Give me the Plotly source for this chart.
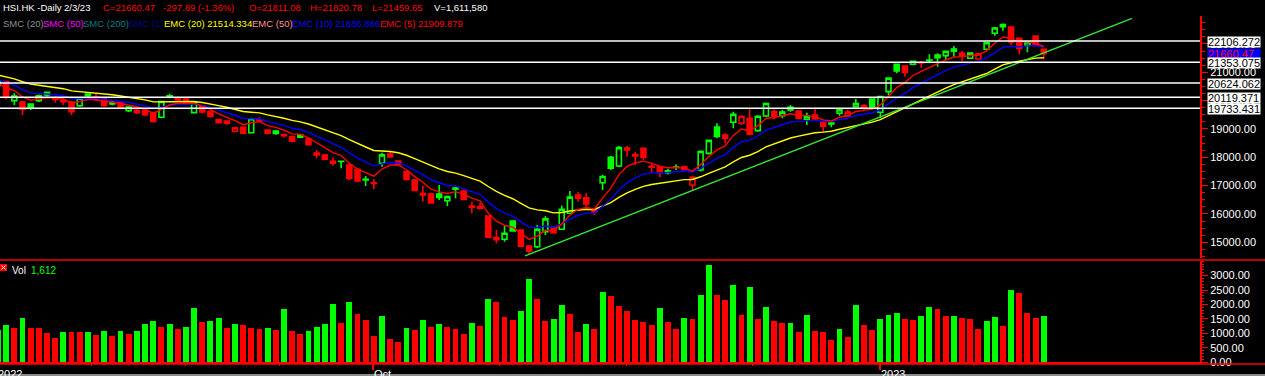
import plotly.graph_objects as go

# ---------------- DATA ----------------
trading_days = {
    "2022-07": [28, 29],
    "2022-08": [1, 2, 3, 4, 5, 8, 9, 10, 11, 12, 15, 16, 17, 18, 19, 22, 23, 24, 25, 26, 29, 30, 31],
    "2022-09": [1, 2, 5, 6, 7, 8, 9, 13, 14, 15, 16, 19, 20, 21, 22, 23, 26, 27, 28, 29, 30],
    "2022-10": [3, 5, 6, 7, 10, 11, 12, 13, 14, 17, 18, 19, 20, 21, 24, 25, 26, 27, 28, 31],
    "2022-11": [1, 2, 3, 4, 7, 8, 9, 10, 11, 14, 15, 16, 17, 18, 21, 22, 23, 24, 25, 28, 29, 30],
    "2022-12": [1, 2, 5, 6, 7, 8, 9, 12, 13, 14, 15, 16, 19, 20, 21, 22, 23, 28, 29, 30],
    "2023-01": [3, 4, 5, 6, 9, 10, 11, 12, 13, 16, 17, 18, 19, 20, 26, 27, 30, 31],
    "2023-02": [1, 2, 3],
}
dates = [f"{m}-{d:02d}" for m, days in trading_days.items() for d in days]

opens = [20540, 20670, 20000, 19953, 19882, 19999, 20295, 20104, 19960, 19953,
         19822, 20230, 20130, 20058, 19880, 19953, 19646, 19576, 19670, 19576,
         19413, 20130, 20080, 20058, 19576, 19822, 19611, 19329, 19283, 18918,
         19060, 18869, 19283, 18964, 18845, 18800, 18728, 18706, 18646, 18082,
         18082, 17789, 17850, 17729, 17577, 17200, 17100, 17789, 18117, 17870,
         17492, 17199, 16670, 16705, 16705, 16468, 16871, 16811, 16236, 16200,
         15928, 15090, 15106, 15752, 15434, 14869, 14845, 15374, 15515, 15459,
         16024, 16670, 16575, 16172, 17104, 18000, 17693, 18330, 18100, 18315,
         17680, 17669, 17457, 17650, 17669, 17022, 17552, 18140, 19070, 18788,
         19236, 19201, 19377, 18940, 19458, 19611, 19470, 19765, 19634, 19341,
         19494, 19222, 19180, 19553, 19458, 19787, 19830, 20059, 19588, 20317,
         21283, 21223, 21283, 21340, 21420, 21612, 21588, 21824, 21671, 21494,
         21471, 21812, 22378, 22611, 22600, 22200, 21950, 22282, 21811]
highs = [20760, 20700, 20259, 19990, 19900, 20220, 20320, 20150, 20090, 19990,
         20100, 20260, 20235, 20080, 19990, 19990, 19800, 19720, 19700, 19600,
         20000, 20240, 20110, 20090, 19960, 19850, 19650, 19360, 19310, 19080,
         19090, 19400, 19413, 18990, 18960, 18830, 18750, 18820, 18700, 18258,
         18120, 18000, 17880, 17760, 17600, 17340, 17224, 18163, 18200, 17900,
         17530, 17230, 17000, 16750, 17023, 16650, 16950, 16850, 16434, 16400,
         15950, 15434, 15575, 15780, 15450, 14900, 15610, 15928, 15560, 16300,
         16811, 16786, 16729, 16200, 17380, 18050, 18400, 18400, 18198, 18350,
         17786, 17700, 17600, 17751, 17700, 17340, 18250, 18620, 19200, 18847,
         19611, 19480, 19695, 19480, 19930, 19695, 19670, 19847, 19660, 19575,
         19765, 19250, 19293, 19720, 19670, 20059, 19870, 20080, 20170, 20820,
         21300, 21250, 21420, 21400, 21636, 21671, 21770, 21930, 21754, 21700,
         21680, 22060, 22600, 22720, 22620, 22230, 22100, 22300, 21821]
lows = [20480, 20050, 19847, 19494, 19670, 19950, 20150, 19930, 19847, 19494,
        19780, 20100, 19990, 19780, 19840, 19700, 19600, 19530, 19450, 19230,
        19380, 20080, 19990, 19850, 19550, 19550, 19400, 19200, 19150, 18880,
        18820, 18850, 19250, 18810, 18800, 18700, 18530, 18680, 18420, 17964,
        17900, 17700, 17610, 17200, 17120, 16990, 16871, 17670, 17990, 17700,
        17180, 16800, 16440, 16360, 16493, 16281, 16553, 16480, 16024, 16150,
        15140, 14965, 15021, 15380, 14830, 14597, 14800, 15258, 15300, 15430,
        16000, 16434, 16257, 15963, 16846, 17550, 17650, 18022, 17729, 17905,
        17435, 17294, 17400, 17552, 17540, 16821, 17500, 18100, 18671, 18494,
        19024, 19141, 18780, 18900, 19420, 19341, 19377, 19611, 19340, 19141,
        19317, 18904, 19060, 19470, 19430, 19760, 19650, 19750, 19377, 20200,
        20965, 20847, 21250, 21163, 21318, 21200, 21435, 21553, 21400, 21470,
        21450, 21790, 22293, 22470, 21965, 21636, 21707, 21900, 21460]
closes = [20670, 20156, 20165, 19689, 19767, 20174, 20201, 20045, 20003, 19610,
          20082, 20175, 20040, 19830, 19922, 19763, 19773, 19657, 19503, 19268,
          19968, 20170, 20023, 19900, 19930, 19597, 19452, 19225, 19202, 19044,
          18854, 19362, 19326, 18848, 18930, 18762, 18566, 18781, 18444, 18147,
          17933, 17855, 17860, 17250, 17165, 17223, 17079, 18087, 18012, 17740,
          17216, 16832, 16720, 16389, 16587, 16612, 16914, 16511, 16280, 16265,
          15180, 15165, 15318, 15399, 14863, 14687, 15455, 15827, 15339, 16161,
          16596, 16557, 16358, 16081, 17325, 17619, 18343, 18256, 18045, 17993,
          17655, 17460, 17523, 17660, 17573, 17297, 18204, 18597, 18736, 18675,
          19518, 19441, 18815, 19450, 19901, 19463, 19596, 19673, 19368, 19450,
          19353, 19094, 19211, 19679, 19593, 19898, 19741, 19781, 20145, 20793,
          21052, 20991, 21388, 21331, 21436, 21514, 21738, 21746, 21578, 21678,
          21651, 22044, 22566, 22689, 22069, 21842, 22072, 21958, 21660.47]
volumes = [1107, 1280, 1188, 1522, 1188, 1188, 1003, 830, 1038, 1038,
           1038, 1045, 934, 1072, 899, 1072, 968, 1072, 1314, 1418,
           1222, 1314, 1141, 1222, 1879, 1384, 1418, 1522, 1188, 1314,
           1280, 1188, 1141, 1176, 1107, 1833, 1072, 968, 1072, 1222,
           1314, 2006, 1349, 2075, 1660, 1453, 899, 1591, 796, 700,
           1176, 1107, 1453, 1211, 1314, 1211, 1141, 968, 1349, 1245,
           2179, 2075, 1557, 1453, 1764, 2871, 2179, 1418, 1487, 1972,
           1660, 1038, 1314, 1141, 2421, 2283, 1937, 1764, 1453, 1384,
           1280, 1868, 1384, 1141, 1522, 1515, 2318, 3355, 2318, 2145,
           2663, 1626, 2594, 1487, 1902, 1418, 1349, 1360, 1038, 1626,
           1072, 1038, 761, 1141, 865, 1972, 1280, 1107, 1487, 1626,
           1695, 1487, 1480, 1591, 1902, 1833, 1591, 1600, 1522, 1487,
           1141, 1418, 1557, 1245, 2490, 2387, 1695, 1522, 1612]

ema_periods = [20, 10, 5]
ema_seeds = [20905, 20730, 20600]          # indicator levels at the first bar
levels = [22106.272, 21353.075, 20624.062, 20119.371, 19733.431]
last_price = 21660.47
trend_x = [64.5, 138.8]
trend_y = [14520, 22900]
price_ticks = [15000, 16000, 17000, 18000, 19000, 20000, 21000, 22000]
vol_ticks = [0, 500, 1000, 1500, 2000, 2500, 3000]
x_labels = ["2022", "Oct", "2023"]
x_label_dates = ["2022-07-28", "2022-10-03", "2023-01-03"]

header1 = [("HSI.HK -Daily", "#ffffff"), ("2/3/23", "#ffffff"), ("C=21660.47", "#ff0000"),
           ("-297.89 (-1.36%)", "#ff0000"), ("O=21811.08", "#ff0000"), ("H=21820.78", "#ff0000"),
           ("L=21459.65", "#ff0000"), ("V=1,611,580", "#ffffff")]
header2 = [("SMC (20)", "#909090"), ("SMC (50)", "#ff00ff"), ("SMC (200)", "#008080"),
           ("SMC (1)", "#000090"), ("EMC (20) 21514.334", "#ffff00"), ("EMC (50)", "#ff9090"),
           ("EMC (10) 21886.886", "#0000ff"), ("EMC (5) 21909.879", "#ff0000")]

# ---------------- LAYOUT HELPERS ----------------
W, H = 1265, 376
PLOT_W = 1200
def px(x):
    return x / PLOT_W
def py(y):
    return (H - y) / H

GREEN, RED = "#00ff00", "#ff0000"
FONT = "Liberation Sans, Arial, sans-serif"
xs = list(range(len(dates)))

# ---------------- TRACES ----------------
fig = go.Figure()

up = [i == 0 or closes[i] > closes[i - 1] for i in xs]
for flag, col in [(True, GREEN), (False, RED)]:
    idx = [i for i in xs if up[i] == flag]
    fig.add_trace(go.Candlestick(
        x=idx, open=[opens[i] for i in idx], high=[highs[i] for i in idx],
        low=[lows[i] for i in idx], close=[closes[i] for i in idx],
        increasing=dict(line=dict(color=col, width=1.6), fillcolor="#000000"),
        decreasing=dict(line=dict(color=col, width=1.6), fillcolor=col),
        whiskerwidth=0, hoverinfo="skip", xaxis="x", yaxis="y"))

ema_colors = {20: "#ffff00", 10: "#0000ff", 5: "#ff0000"}
for n, seed in zip(ema_periods, ema_seeds):
    a = 2.0 / (n + 1)
    vals = [seed]
    for c in closes[1:]:
        vals.append(a * c + (1 - a) * vals[-1])
    fig.add_trace(go.Scatter(x=xs, y=vals, mode="lines",
                             line=dict(color=ema_colors[n], width=1.4),
                             hoverinfo="skip", xaxis="x", yaxis="y"))

fig.add_trace(go.Scatter(x=trend_x, y=trend_y, mode="lines",
                         line=dict(color="#33e633", width=1.4),
                         hoverinfo="skip", xaxis="x", yaxis="y"))

vol_colors = [GREEN if (i == 0 or volumes[i] > volumes[i - 1]) else RED for i in xs]
fig.add_trace(go.Bar(x=xs, y=volumes, marker=dict(color=vol_colors, line=dict(width=0)),
                     width=0.72, hoverinfo="skip", xaxis="x2", yaxis="y2"))

# ---------------- AXES ----------------
x0 = 2 / 8.17
x1 = (PLOT_W + 2) / 8.17
major_x = [dates.index(d) - 0.05 for d in x_label_dates[1:]]
minor_x = [11.47, 22.93, 34.43, 61.44, 76.87, 92.37, 119.46]

price_dom = [py(258), py(16)]
vol_dom = [py(362.3), py(261)]

fig.update_layout(
    width=W, height=H, margin=dict(l=0, r=65, t=0, b=0),
    paper_bgcolor="#000000", plot_bgcolor="#000000", showlegend=False,
    boxgap=0.14, bargap=0,
    font=dict(family=FONT, color="#ffffff", size=11),
    xaxis=dict(domain=[0, 1], range=[x0, x1], anchor="y", showticklabels=False,
               showgrid=False, zeroline=False, showline=False, ticks="",
               rangeslider=dict(visible=False), fixedrange=True),
    xaxis2=dict(domain=[0, 1], matches="x", range=[x0, x1], anchor="y2",
                showticklabels=False, showgrid=False, zeroline=False,
                showline=True, linecolor=RED, linewidth=2,
                ticks="outside", tickmode="array", tickvals=major_x,
                ticklen=6, tickwidth=2, tickcolor=RED,
                minor=dict(tickmode="array", tickvals=minor_x, ticks="outside",
                           ticklen=2, tickwidth=1, tickcolor=RED)),
    yaxis=dict(domain=price_dom, range=[14446, 22987], side="right", anchor="x",
               showgrid=False, zeroline=False, showline=True, linecolor=RED, linewidth=2,
               ticks="outside", tickmode="array", tickvals=price_ticks,
               ticktext=[f"{v:.2f}" for v in price_ticks], ticklen=6, tickcolor=RED,
               tickwidth=1, tickfont=dict(size=11, color="#ffffff"),
               minor=dict(dtick=250, ticks="outside", ticklen=3, tickcolor=RED),
               automargin=False, fixedrange=True),
    yaxis2=dict(domain=vol_dom, range=[0, 3505], side="right", anchor="x2",
                showgrid=False, zeroline=False, showline=True, linecolor=RED, linewidth=2,
                ticks="outside", tickmode="array", tickvals=vol_ticks,
                ticktext=[f"{v:.2f}" for v in vol_ticks], ticklen=6, tickcolor=RED,
                tickwidth=1, tickfont=dict(size=11, color="#ffffff"),
                minor=dict(dtick=100, ticks="outside", ticklen=2, tickcolor=RED),
                automargin=False, fixedrange=True),
)

# ---------------- SHAPES ----------------
shapes = []
for lv in levels:
    shapes.append(dict(type="line", xref="x domain", yref="y", x0=0, x1=1, y0=lv, y1=lv,
                       line=dict(color="#ffffff", width=1.5), layer="above"))
for yy, col, w in [(260, RED, 1.5), (364, RED, 1.5), (375, "#8a8a8a", 2)]:
    shapes.append(dict(type="line", xref="paper", yref="paper", x0=0, x1=px(W),
                       y0=py(yy), y1=py(yy), line=dict(color=col, width=w)))
# close-box icon of the volume pane
shapes.append(dict(type="rect", xref="paper", yref="paper", x0=px(0), x1=px(7),
                   y0=py(271), y1=py(264), fillcolor=RED, line=dict(width=0)))
shapes.append(dict(type="line", xref="paper", yref="paper", x0=px(1.5), x1=px(5.5),
                   y0=py(265.5), y1=py(269.5), line=dict(color="#ffffff", width=1)))
shapes.append(dict(type="line", xref="paper", yref="paper", x0=px(1.5), x1=px(5.5),
                   y0=py(269.5), y1=py(265.5), line=dict(color="#ffffff", width=1)))
fig.update_layout(shapes=shapes)

# ---------------- ANNOTATIONS ----------------
ann = []
h1x = [2, 63, 102, 162, 248, 309, 371, 433]
h2x = [2, 42, 82, 127, 163, 251, 291, 379]
for (t, c), x in zip(header1, h1x):
    ann.append(dict(text=t, x=px(x), y=py(7.5), xref="paper", yref="paper",
                    xanchor="left", yanchor="middle", showarrow=False,
                    font=dict(size=9.5, color=c, family=FONT), borderpad=0))
for (t, c), x in zip(header2, h2x):
    ann.append(dict(text=t, x=px(x), y=py(23.5), xref="paper", yref="paper",
                    xanchor="left", yanchor="middle", showarrow=False,
                    font=dict(size=9.5, color=c, family=FONT), borderpad=0))

ann.append(dict(text="Vol", x=px(11), y=py(270), xref="paper", yref="paper",
                xanchor="left", yanchor="middle", showarrow=False,
                font=dict(size=10, color="#ffffff"), borderpad=0))
ann.append(dict(text=f"{volumes[-1]:,}", x=px(30), y=py(270), xref="paper", yref="paper",
                xanchor="left", yanchor="middle", showarrow=False,
                font=dict(size=10, color=GREEN), borderpad=0))

# current price tag, then level tags on top of it
ann.append(dict(text=f"{last_price:.2f}", x=px(1207), y=last_price, xref="paper", yref="y",
                xanchor="left", yanchor="middle", showarrow=False, width=52, height=10,
                align="left", bgcolor="#0000ff", borderpad=0,
                font=dict(size=11, color=RED, family=FONT)))
for lv in levels:
    ann.append(dict(text=f"{lv:.3f}", x=px(1207), y=lv, xref="paper", yref="y",
                    xanchor="left", yanchor="middle", showarrow=False, width=52, height=10,
                    align="left", bgcolor="#ffffff", borderpad=0, yshift=-1,
                    font=dict(size=11, color="#000000", family=FONT)))

# x-axis labels, left-aligned at their ticks (the first one sits at the left edge)
x_label_px = [-3] + [(v * 8.17 - 2) for v in major_x]
for t, xp in zip(x_labels, x_label_px):
    ann.append(dict(text=t, x=px(xp), y=py(367), xref="paper", yref="paper",
                    xanchor="left", yanchor="top", showarrow=False, borderpad=0,
                    font=dict(size=11, color="#ffffff", family=FONT)))
fig.update_layout(annotations=ann)

fig.write_html("out.html", config={"displayModeBar": False, "staticPlot": True},
               post_script="document.body.style.margin='0';document.body.style.overflow='hidden';")
